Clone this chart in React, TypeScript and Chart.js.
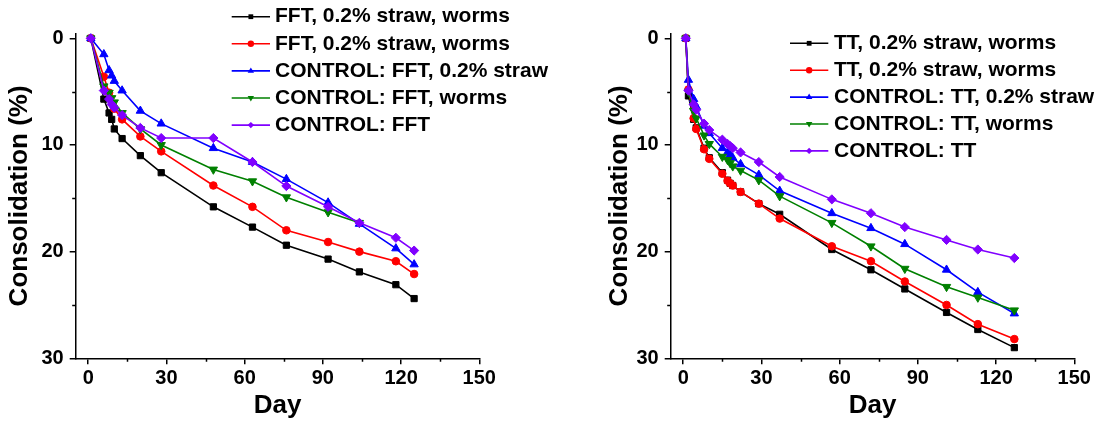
import React, { useEffect, useRef } from 'react';
import { Chart, registerables } from 'chart.js';

Chart.register(...registerables);

const FONT = '"Liberation Sans", Arial, sans-serif';

const X_TICKS = [0, 30, 60, 90, 120, 150];
const X_MINOR = [15, 45, 75, 105, 135];
const Y_TICKS = [0, 10, 20, 30];
const Y_MINOR = [5, 15, 25];

// ---- Left chart (FFT) ----
const FFT_LABELS = [
  'FFT, 0.2% straw, worms',
  'FFT, 0.2% straw, worms',
  'CONTROL: FFT, 0.2% straw',
  'CONTROL: FFT, worms',
  'CONTROL: FFT',
];
const FFT_DAYS = [1, 6, 8, 9, 10, 13, 20, 28, 48, 63, 76, 92, 104, 118, 125];
const FFT_DAYS_RED = [1, 6, 8, 10, 13, 20, 28, 48, 63, 76, 92, 104, 118, 125];
const FFT_DAYS_GREEN = [1, 6, 8, 9, 10, 13, 20, 28, 48, 63, 76, 92, 104];
const FFT_BLACK = [0, 5.7, 7.0, 7.6, 8.5, 9.4, 11.0, 12.6, 15.8, 17.7, 19.4, 20.7, 21.9, 23.1, 24.4];
const FFT_RED = [0, 3.6, 5.1, 6.6, 7.6, 9.2, 10.6, 13.8, 15.8, 18.0, 19.1, 20.0, 20.9, 22.1];
const FFT_BLUE = [0, 1.5, 3.0, 3.5, 4.0, 4.9, 6.8, 8.0, 10.3, 11.6, 13.2, 15.4, 17.4, 19.7, 21.2];
const FFT_GREEN = [0, 4.5, 5.1, 5.6, 6.0, 7.0, 8.5, 10.0, 12.3, 13.4, 14.9, 16.3, 17.3];
const FFT_PURPLE = [0, 4.9, 5.7, 6.2, 6.5, 7.2, 8.4, 9.35, 9.35, 11.6, 13.85, 15.8, 17.3, 18.7, 19.9];

// ---- Right chart (TT) ----
const TT_LABELS = [
  'TT, 0.2% straw, worms',
  'TT, 0.2% straw, worms',
  'CONTROL: TT, 0.2% straw',
  'CONTROL: TT, worms',
  'CONTROL: TT',
];
const TT_DAYS = [1, 2, 4, 5, 8, 10, 15, 17, 18, 19, 22, 29, 37, 57, 72, 85, 101, 113, 127];
const TT_BLACK = [0, 5.4, 7.6, 8.4, 10.3, 11.2, 12.6, 13.3, 13.6, 13.8, 14.4, 15.5, 16.5, 19.8, 21.7, 23.5, 25.7, 27.3, 29.0];
const TT_RED = [0, 4.8, 7.5, 8.5, 10.4, 11.3, 12.7, 13.35, 13.6, 13.8, 14.4, 15.5, 16.9, 19.5, 20.9, 22.8, 25.0, 26.8, 28.2];
const TT_BLUE = [0, 3.9, 5.7, 6.4, 8.2, 8.9, 10.3, 10.7, 10.9, 11.2, 11.8, 12.8, 14.3, 16.4, 17.8, 19.3, 21.7, 23.8, 25.8];
const TT_GREEN = [0, 5.0, 6.8, 7.5, 9.1, 9.9, 11.1, 11.4, 11.7, 12.0, 12.4, 13.3, 14.8, 17.3, 19.5, 21.6, 23.3, 24.3, 25.5];
const TT_PURPLE = [0, 4.9, 6.2, 6.7, 8.0, 8.6, 9.5, 9.9, 10.1, 10.3, 10.7, 11.6, 13.0, 15.1, 16.4, 17.7, 18.9, 19.8, 20.6];

const COLORS = ['#000000', '#ff0000', '#0000ff', '#008000', '#8000ff'];
const MARKERS = ['square', 'circle', 'up', 'down', 'diamond'];

type Mk = string;

function pointCfg(m: Mk) {
  switch (m) {
    case 'square': return { pointStyle: 'rect', pointRadius: 4.4, pointRotation: 0 };
    case 'circle': return { pointStyle: 'circle', pointRadius: 3.8, pointRotation: 0 };
    case 'up': return { pointStyle: 'triangle', pointRadius: 4.8, pointRotation: 0 };
    case 'down': return { pointStyle: 'triangle', pointRadius: 4.8, pointRotation: 180 };
    default: return { pointStyle: 'rectRot', pointRadius: 4.6, pointRotation: 0 };
  }
}

function drawMarker(ctx: CanvasRenderingContext2D, m: Mk, x: number, y: number, r: number) {
  ctx.beginPath();
  if (m === 'square') {
    ctx.rect(x - r * 0.75, y - r * 0.75, r * 1.5, r * 1.5);
  } else if (m === 'circle') {
    ctx.arc(x, y, r, 0, Math.PI * 2);
  } else if (m === 'up') {
    ctx.moveTo(x, y - r * 1.1);
    ctx.lineTo(x + r, y + r * 0.6);
    ctx.lineTo(x - r, y + r * 0.6);
    ctx.closePath();
  } else if (m === 'down') {
    ctx.moveTo(x, y + r * 1.1);
    ctx.lineTo(x + r, y - r * 0.6);
    ctx.lineTo(x - r, y - r * 0.6);
    ctx.closePath();
  } else {
    ctx.moveTo(x, y - r);
    ctx.lineTo(x + r, y);
    ctx.lineTo(x, y + r);
    ctx.lineTo(x - r, y);
    ctx.closePath();
  }
  ctx.fill();
}

interface LegendPos { x0: number; x1: number; tx: number; y0: number; dy: number }

function buildChart(
  canvas: HTMLCanvasElement,
  labels: string[],
  days: number[][],
  values: number[][],
  yAxisWidth: number,
  yTitlePad: number,
  padRight: number,
  leg: LegendPos,
) {
  const datasets = labels.map((label, i) => ({
    label,
    data: days[i].map((d, k) => ({ x: d, y: values[i][k] })),
    borderColor: COLORS[i],
    backgroundColor: COLORS[i],
    pointBackgroundColor: COLORS[i],
    pointBorderColor: COLORS[i],
    pointBorderWidth: 1,
    borderWidth: 1.6,
    tension: 0,
    fill: false,
    order: labels.length - 1 - i,
    ...pointCfg(MARKERS[i]),
  }));

  const tickFont = { family: FONT, size: 20, weight: 'bold' as const };
  const titleFont = { family: FONT, size: 26, weight: 'bold' as const };

  const extras = {
    id: 'extras',
    afterDraw(chart: any) {
      const ctx: CanvasRenderingContext2D = chart.ctx;
      const xs = chart.scales.x;
      const ys = chart.scales.y;
      const area = chart.chartArea;
      ctx.save();
      ctx.strokeStyle = '#000';
      ctx.lineWidth = 1.5;
      ctx.beginPath();
      X_MINOR.forEach((v) => {
        const px = Math.round(xs.getPixelForValue(v)) + 0.5;
        ctx.moveTo(px, area.bottom);
        ctx.lineTo(px, area.bottom + 3.5);
      });
      Y_MINOR.forEach((v) => {
        const py = Math.round(ys.getPixelForValue(v)) + 0.5;
        ctx.moveTo(area.left - 3.5, py);
        ctx.lineTo(area.left, py);
      });
      ctx.stroke();

      // legend
      ctx.font = `bold 21px ${FONT}`;
      ctx.textBaseline = 'middle';
      ctx.textAlign = 'left';
      labels.forEach((label, i) => {
        const y = leg.y0 + i * leg.dy;
        ctx.strokeStyle = COLORS[i];
        ctx.fillStyle = COLORS[i];
        ctx.lineWidth = 1.6;
        ctx.beginPath();
        ctx.moveTo(leg.x0, y);
        ctx.lineTo(leg.x1, y);
        ctx.stroke();
        drawMarker(ctx, MARKERS[i], (leg.x0 + leg.x1) / 2, y, 3.2);
        ctx.fillStyle = '#000';
        ctx.fillText(label, leg.tx, y);
      });
      ctx.restore();
    },
  };

  return new Chart(canvas, {
    type: 'line',
    data: { datasets: datasets as any },
    options: {
      responsive: false,
      animation: false,
      layout: { padding: { top: 33.5, right: padRight, left: 0, bottom: 0 } },
      plugins: { legend: { display: false }, tooltip: { enabled: false } },
      scales: {
        x: {
          type: 'linear',
          min: -4.8,
          max: 150,
          afterBuildTicks: (s: any) => { s.ticks = X_TICKS.map((v) => ({ value: v })); },
          afterFit: (s: any) => { s.height = 62.7; },
          ticks: { font: tickFont, color: '#000', padding: 2, maxRotation: 0, autoSkip: false, callback: (v: any) => String(v) },
          grid: { display: true, drawOnChartArea: false, drawTicks: true, tickLength: 6, color: '#000', lineWidth: 1.5 },
          border: { display: true, color: '#000', width: 1.5 },
          title: { display: true, text: 'Day', font: titleFont, color: '#000', padding: { top: 0, bottom: 0 } },
        },
        y: {
          type: 'linear',
          reverse: true,
          min: -0.45,
          max: 30,
          afterBuildTicks: (s: any) => { s.ticks = Y_TICKS.map((v) => ({ value: v })); },
          afterFit: (s: any) => { s.width = yAxisWidth; },
          ticks: { font: tickFont, color: '#000', padding: 6, autoSkip: false, callback: (v: any) => String(v) },
          grid: { display: true, drawOnChartArea: false, drawTicks: true, tickLength: 6, color: '#000', lineWidth: 1.5 },
          border: { display: true, color: '#000', width: 1.5 },
          title: { display: true, text: 'Consolidation (%)', font: titleFont, color: '#000', padding: { top: yTitlePad, bottom: 0 } },
        },
      },
    } as any,
    plugins: [extras],
  });
}

export default function App() {
  const leftRef = useRef<HTMLCanvasElement>(null);
  const rightRef = useRef<HTMLCanvasElement>(null);

  useEffect(() => {
    const c1 = buildChart(
      leftRef.current!,
      FFT_LABELS,
      [FFT_DAYS, FFT_DAYS_RED, FFT_DAYS, FFT_DAYS_GREEN, FFT_DAYS],
      [FFT_BLACK, FFT_RED, FFT_BLUE, FFT_GREEN, FFT_PURPLE],
      75.7,
      4,
      120.7,
      { x0: 231.7, x1: 270, tx: 275, y0: 16.7, dy: 27.1 },
    );
    const c2 = buildChart(
      rightRef.current!,
      TT_LABELS,
      [TT_DAYS, TT_DAYS, TT_DAYS, TT_DAYS, TT_DAYS],
      [TT_BLACK, TT_RED, TT_BLUE, TT_GREEN, TT_PURPLE],
      118.7,
      52,
      29.7,
      { x0: 238, x1: 276.3, tx: 282, y0: 43.3, dy: 26.9 },
    );
    return () => { c1.destroy(); c2.destroy(); };
  }, []);

  return (
    <div style={{ position: 'absolute', left: 0, top: 0, width: 1104, height: 421, background: '#fff', overflow: 'hidden' }}>
      <canvas ref={leftRef} width={600} height={421} style={{ position: 'absolute', left: 0, top: 0 }} />
      <canvas ref={rightRef} width={552} height={421} style={{ position: 'absolute', left: 552, top: 0 }} />
    </div>
  );
}
